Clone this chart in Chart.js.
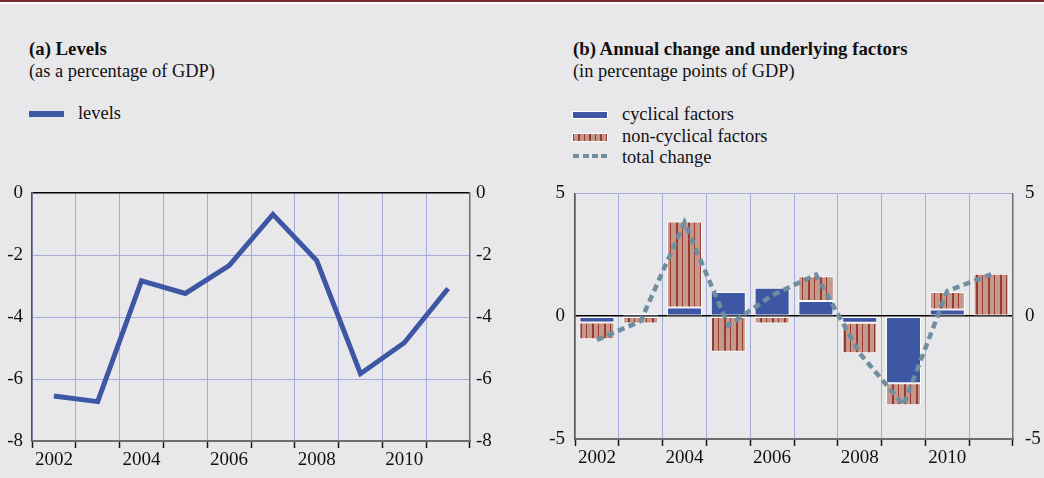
<!DOCTYPE html>
<html>
<head>
<meta charset="utf-8">
<script src="https://cdn.jsdelivr.net/npm/chart.js@4.4.1/dist/chart.umd.min.js"></script>
<style>
  html, body { margin:0; padding:0; }
  body { width:1044px; height:478px; background:#e8e8ea; position:relative; overflow:hidden;
         font-family:"Liberation Serif","Times New Roman",serif; color:#111; }
  .topbar { position:absolute; left:0; top:0; width:1044px; height:2px; background:#7b2a33; }
  .topwhite { position:absolute; left:0; top:2px; width:1044px; height:2px; background:#fff; }
  .t { position:absolute; font-size:18.4px; line-height:18px; white-space:nowrap; }
  .b { font-weight:bold; font-size:18.8px; }
  .sw { position:absolute; }
  .cv { position:absolute; }
</style>
</head>
<body>
<div class="topbar"></div><div class="topwhite"></div>

<div class="t b" style="left:29px;top:40px;">(a) Levels</div>
<div class="t" style="left:29px;top:62px;">(as a percentage of GDP)</div>
<div class="sw" style="left:29px;top:111px;width:35px;height:6px;background:#3e57a5;"></div>
<div class="t" style="left:78px;top:104px;">levels</div>

<div class="t b" style="left:573px;top:40px;">(b) Annual change and underlying factors</div>
<div class="t" style="left:573px;top:62px;">(in percentage points of GDP)</div>
<div class="sw" style="left:573px;top:112px;width:34px;height:6px;background:#3e57a5;outline:1px solid #fff;"></div>
<div class="t" style="left:622px;top:105px;">cyclical factors</div>
<div class="sw" style="left:573px;top:134px;width:34px;height:7px;outline:1px solid #fff;background:repeating-linear-gradient(to right,#9b3b30 0 1.5px,#c4998b 1.5px 5.5px);"></div>
<div class="t" style="left:622px;top:127px;">non-cyclical factors</div>
<div class="sw" style="left:573px;top:154px;width:34px;height:4px;background:repeating-linear-gradient(to right,#6f8ea0 0 6px,transparent 6px 9.5px);"></div>
<div class="t" style="left:622px;top:148px;">total change</div>

<canvas id="c1" class="cv" width="520" height="308" style="left:0;top:170px;width:520px;height:308px;"></canvas>
<canvas id="c2" class="cv" width="524" height="308" style="left:520px;top:170px;width:524px;height:308px;"></canvas>

<script>
// ---- data ----
const years = ['2002','2003','2004','2005','2006','2007','2008','2009','2010','2011'];
const xTickLabels = ['2002','','2004','','2006','','2008','','2010',''];
const levels = [-6.55, -6.73, -2.83, -3.24, -2.34, -0.69, -2.18, -5.83, -4.83, -3.08];
const cyclical = [-0.26, 0.10, 0.35, 0.99, 1.16, 0.62, -0.27, -2.73, 0.27, 0.0];
const nonCyclical = [-0.68, -0.30, 3.51, -1.45, -0.30, 1.01, -1.24, -0.90, 0.72, 1.73];
const totalChange = [-0.97, -0.20, 3.82, -0.38, 0.85, 1.69, -1.51, -3.62, 1.03, 1.70];
const levelTicks = [0, -2, -4, -6, -8];
const changeTicks = [5, 0, -5];

// ---- styles ----
const FONT = {family: '"Liberation Serif","Times New Roman",serif', size: 19};
const BLUE = '#3e57a5';
const GRID = '#a4acdc';

function hatchPattern() {
  const c = document.createElement('canvas');
  c.width = 12; c.height = 8;
  const g = c.getContext('2d');
  g.fillStyle = '#c4998b'; g.fillRect(0, 0, 12, 8);
  g.fillStyle = '#9b3b30';
  g.fillRect(0, 0, 2, 8);
  g.fillRect(6, 0, 1, 8);
  return g.createPattern(c, 'repeat');
}

function xScale(tickLabels, h) {
  return {
    type: 'category',
    offset: true,
    stacked: true,
    grid: {offset: true, color: GRID, lineWidth: 1, tickColor: '#1a1a1a', tickLength: 7, tickWidth: 1.5, drawTicks: true},
    border: {display: true, color: '#6e6e6e', width: 2},
    ticks: {
      font: FONT, color: '#111', padding: 1, autoSkip: false, maxRotation: 0,
      callback: (v, i) => tickLabels[i]
    },
    afterFit: s => { s.height = h; }
  };
}

function yScales(min, max, ticksArr, wl, wr, padL, padR, topColor) {
  const gridColor = ctx => {
    const v = ctx.tick && ctx.tick.value;
    if (v === max) return topColor;
    if (v === 0) return '#000';
    if (v === min) return 'rgba(0,0,0,0)';
    return GRID;
  };
  return {
    y: {
      position: 'left', min, max, stacked: true,
      afterBuildTicks: s => { s.ticks = ticksArr.map(v => ({value: v})); },
      grid: {color: gridColor, lineWidth: ctx => (ctx.tick && ctx.tick.value === 0 ? 1.5 : 1), drawTicks: false},
      border: {display: true, color: '#555', width: 1.5},
      ticks: {font: FONT, color: '#111', padding: padL},
      afterFit: s => { s.width = wl; }
    },
    y2: {
      position: 'right', min, max,
      afterBuildTicks: s => { s.ticks = ticksArr.map(v => ({value: v})); },
      grid: {display: false, drawTicks: false},
      border: {display: true, color: '#6e6e6e', width: 1.5},
      ticks: {font: FONT, color: '#111', padding: padR},
      afterFit: s => { s.width = wr; }
    }
  };
}

// ---- chart (a) ----
const ys1 = yScales(-8, 0, levelTicks, 32, 50, 9, 6, '#000');
new Chart(document.getElementById('c1'), {
  type: 'line',
  data: {
    labels: years,
    datasets: [{
      label: 'levels', data: levels, borderColor: BLUE, borderWidth: 5,
      pointRadius: 0, tension: 0, fill: false, yAxisID: 'y', borderJoinStyle: 'miter'
    }]
  },
  options: {
    responsive: false, animation: false,
    layout: {padding: {top: 23, left: 0, right: 0, bottom: 0}},
    plugins: {legend: {display: false}, tooltip: {enabled: false}},
    scales: {x: Object.assign(xScale(xTickLabels, 37), {stacked: false}), y: Object.assign(ys1.y, {stacked: false}), y2: ys1.y2}
  }
});

// ---- chart (b) ----
const ys2 = yScales(-5, 5, changeTicks, 55, 31, 10, 12, GRID);
new Chart(document.getElementById('c2'), {
  type: 'bar',
  data: {
    labels: years,
    datasets: [
      {type: 'line', label: 'total change', data: totalChange, stack: 'line', borderColor: '#6f8ea0',
       borderWidth: 4.5, borderDash: [7, 4.5], pointRadius: 0, tension: 0, fill: false, order: 0, yAxisID: 'y'},
      {label: 'cyclical factors', data: cyclical, backgroundColor: BLUE, borderColor: '#ffffff',
       borderWidth: 1, borderSkipped: false, stack: 'bars', order: 1, yAxisID: 'y',
       categoryPercentage: 1.0, barPercentage: 0.8},
      {label: 'non-cyclical factors', data: nonCyclical, backgroundColor: hatchPattern(), borderColor: '#ffffff',
       borderWidth: 1, borderSkipped: false, stack: 'bars', order: 1, yAxisID: 'y',
       categoryPercentage: 1.0, barPercentage: 0.8}
    ]
  },
  options: {
    responsive: false, animation: false,
    layout: {padding: {top: 22, left: 0, right: 0, bottom: 0}},
    plugins: {legend: {display: false}, tooltip: {enabled: false}},
    scales: {x: xScale(xTickLabels, 39), y: ys2.y, y2: ys2.y2}
  }
});
</script>
</body>
</html>
